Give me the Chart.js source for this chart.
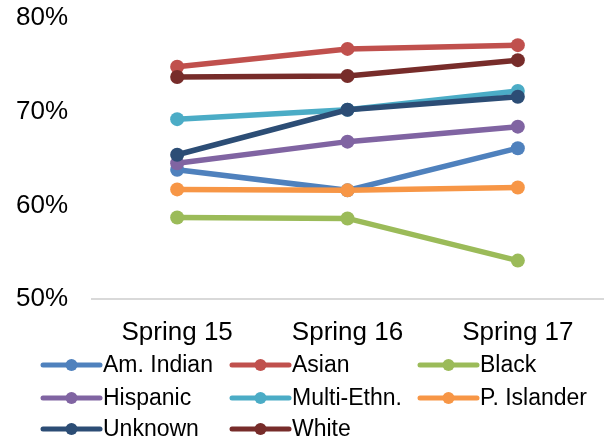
<!DOCTYPE html>
<html>
<head>
<meta charset="utf-8">
<script src="https://cdn.jsdelivr.net/npm/chart.js@4/dist/chart.umd.min.js"></script>
<style>
  html, body { margin: 0; padding: 0; background: #fff; }
  #wrap { position: relative; width: 613px; height: 443px; }
</style>
</head>
<body>
<div id="wrap"><canvas id="c" width="613" height="443"></canvas></div>
<script>
// Terms on the x axis
const terms = ['Spring 15', 'Spring 16', 'Spring 17'];

// Group names and their colours
const groups = ['Am. Indian', 'Asian', 'Black', 'Hispanic', 'Multi-Ethn.', 'P. Islander', 'Unknown', 'White'];
const colors = ['#4F81BD', '#C0504D', '#9BBB59', '#8064A2', '#4BACC6', '#F79646', '#2C4D75', '#772C2A'];

// Percent per group, one value per term
const amIndian   = [63.8, 61.6, 66.1];
const asian      = [74.8, 76.7, 77.1];
const black      = [58.7, 58.6, 54.1];
const hispanic   = [64.5, 66.8, 68.4];
const multiEthn  = [69.2, 70.2, 72.2];
const pIslander  = [61.7, 61.6, 61.9];
const unknown    = [65.4, 70.2, 71.6];
const white      = [73.7, 73.8, 75.5];
const seriesValues = [amIndian, asian, black, hispanic, multiEthn, pIslander, unknown, white];

// Y axis range and step
const yMin = 50, yMax = 80, yStep = 10;

const FONT = '"Liberation Sans", Arial, sans-serif';

const datasets = groups.map((g, i) => ({
  label: g,
  data: seriesValues[i],
  borderColor: colors[i],
  backgroundColor: colors[i],
  pointBackgroundColor: colors[i],
  pointBorderColor: colors[i],
  borderWidth: 5.5,
  pointRadius: 7,
  pointHoverRadius: 7,
  pointBorderWidth: 0,
  tension: 0,
  // later series sit above earlier ones
  order: groups.length - i
}));

// Three-column legend under the axis
const gridLegend = {
  id: 'gridLegend',
  afterDraw(chart) {
    const ctx = chart.ctx;
    const colX = [43, 232, 420];
    const rowY = [365, 398, 429];
    ctx.save();
    chart.data.datasets.forEach((ds, i) => {
      const x0 = colX[i % 3];
      const y = rowY[Math.floor(i / 3)];
      ctx.strokeStyle = ds.borderColor;
      ctx.lineWidth = 5;
      ctx.lineCap = 'round';
      ctx.beginPath();
      ctx.moveTo(x0, y);
      ctx.lineTo(x0 + 57, y);
      ctx.stroke();
      ctx.fillStyle = ds.borderColor;
      ctx.beginPath();
      ctx.arc(x0 + 28.5, y, 6, 0, Math.PI * 2);
      ctx.fill();
      ctx.fillStyle = '#000';
      ctx.font = '23px ' + FONT;
      ctx.textAlign = 'left';
      ctx.textBaseline = 'middle';
      ctx.fillText(ds.label, x0 + 60, y + 1);
    });
    ctx.restore();
  }
};

new Chart(document.getElementById('c'), {
  type: 'line',
  data: { labels: terms, datasets },
  options: {
    responsive: false,
    animation: false,
    events: [],
    layout: { padding: { top: 18, right: 10, left: 0, bottom: 0 } },
    plugins: { legend: { display: false }, tooltip: { enabled: false }, title: { display: false } },
    scales: {
      x: {
        offset: true,
        grid: { display: false, drawTicks: false },
        border: { display: true, color: '#d9d9d9', width: 2 },
        ticks: { color: '#000', font: { family: FONT, size: 26 }, padding: 18 },
        afterFit(scale) { scale.height = 144; }
      },
      y: {
        min: yMin,
        max: yMax,
        grid: { display: false, drawTicks: false },
        border: { display: false },
        ticks: {
          stepSize: yStep,
          color: '#000',
          font: { family: FONT, size: 26 },
          padding: 24,
          callback: v => v + '%'
        },
        afterFit(scale) {
          scale.width = 92;
          scale.paddingTop = 0;
          scale.paddingBottom = 0;
        }
      }
    }
  },
  plugins: [gridLegend]
});
</script>
</body>
</html>
